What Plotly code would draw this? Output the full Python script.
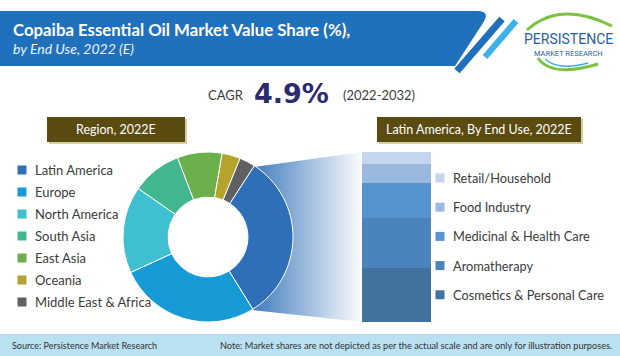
import plotly.graph_objects as go

W, H = 620, 356

# ---------------- data ----------------
title_text = "Copaiba Essential Oil Market Value Share (%),"
subtitle_text = "by End Use, 2022 (E)"
cagr_value = "4.9%"
cagr_period = "(2022-2032)"

regions = ["Latin America", "Europe", "North America", "South Asia",
           "East Asia", "Oceania", "Middle East & Africa"]
region_share = [32.0, 27.0, 16.5, 9.5, 8.5, 3.5, 3.0]
region_colors = ["#2e6fb7", "#179bd7", "#3ec0d0", "#42b68e",
                 "#6bb04b", "#b4a32c", "#5f6062"]

end_uses = ["Cosmetics & Personal Care", "Aromatherapy",
            "Medicinal & Health Care", "Food Industry", "Retail/Household"]
end_use_share = [32.0, 29.0, 20.5, 11.5, 7.0]
end_use_colors = ["#43729f", "#4b83bd", "#5694d1", "#9bb9df", "#c4d5ec"]

source_text = "Source: Persistence Market Research"
note_text = ("Note: Market shares are not depicted as per the actual scale "
             "and are only for illustration purposes.")

FONT = "Lato, 'Open Sans', sans-serif"
TXT = "#3b3b3b"


def fx(x):
    return x / W


def fy(y):
    return 1 - y / H


fig = go.Figure()

# ---- gradient connector (Latin America -> bar) ----
fig.add_trace(go.Scatter(
    x=[254, 362, 362, 252, 254], y=[167, 152, 322, 310, 167],
    xaxis="x", yaxis="y", mode="lines", line=dict(width=0),
    fill="toself",
    fillgradient=dict(type="horizontal",
                      colorscale=[[0, "rgba(46,111,183,0.9)"],
                                  [1, "rgba(46,111,183,0.0)"]],
                      start=254, stop=364),
    hoverinfo="skip", showlegend=False))

# ---- donut ----
fig.add_trace(go.Pie(
    labels=regions, values=region_share, sort=False,
    direction="clockwise", rotation=33, hole=0.47,
    marker=dict(colors=region_colors, line=dict(color="white", width=1)),
    textinfo="none", hoverinfo="label+percent", showlegend=False,
    domain=dict(x=[fx(123), fx(293)], y=[fy(322), fy(152)])))

# ---- stacked bar ----
for name, val, col in zip(end_uses, end_use_share, end_use_colors):
    fig.add_trace(go.Bar(
        x=[0], y=[val], name=name, width=1, xaxis="x2", yaxis="y2",
        marker=dict(color=col, line=dict(width=0)),
        showlegend=False, hoverinfo="name+y"))

# ---- legend markers ----
fig.add_trace(go.Scatter(
    x=[22] * len(regions), y=[170 + 22 * i for i in range(len(regions))],
    xaxis="x", yaxis="y", mode="markers",
    marker=dict(symbol="square", size=9, color=region_colors, line=dict(width=0)),
    hoverinfo="skip", showlegend=False))

rev_uses = end_uses[::-1]
rev_cols = end_use_colors[::-1]
fig.add_trace(go.Scatter(
    x=[440] * len(rev_uses), y=[178 + 29.2 * i for i in range(len(rev_uses))],
    xaxis="x", yaxis="y", mode="markers",
    marker=dict(symbol="square", size=9, color=rev_cols, line=dict(width=0)),
    hoverinfo="skip", showlegend=False))

annotations = []
for i, r in enumerate(regions):
    annotations.append(dict(x=33, y=170 + 22 * i, xref="x", yref="y", text=r,
                            showarrow=False, xanchor="left", yanchor="middle",
                            font=dict(family=FONT, size=13, color=TXT)))
for i, r in enumerate(rev_uses):
    annotations.append(dict(x=451, y=178 + 29.2 * i, xref="x", yref="y", text=r,
                            showarrow=False, xanchor="left", yanchor="middle",
                            font=dict(family=FONT, size=12.8, color=TXT)))

# header texts
annotations += [
    dict(x=11, y=29, xref="x", yref="y", text="<b>" + title_text + "</b>",
         showarrow=False, xanchor="left", yanchor="middle",
         font=dict(family=FONT, size=16.8, color="white")),
    dict(x=11, y=48, xref="x", yref="y", text="<i>" + subtitle_text + "</i>",
         showarrow=False, xanchor="left", yanchor="middle",
         font=dict(family=FONT, size=14, color="#eef3fa")),
    # logo text
    dict(x=568, y=39, xref="x", yref="y", text="PERSISTENCE",
         showarrow=False, xanchor="center", yanchor="middle",
         font=dict(family="'Liberation Sans Narrow', 'Roboto', sans-serif",
                   size=14, color="#1f5fa6")),
    dict(x=568, y=53, xref="x", yref="y", text="MARKET RESEARCH",
         showarrow=False, xanchor="center", yanchor="middle",
         font=dict(family="'Liberation Sans Narrow', 'Roboto', sans-serif",
                   size=7.5, color="#1f5fa6")),
    # CAGR
    dict(x=246, y=95, xref="x", yref="y", text="CAGR",
         showarrow=False, xanchor="right", yanchor="middle",
         font=dict(family=FONT, size=13, color=TXT)),
    dict(x=252, y=93, xref="x", yref="y", text="<b>" + cagr_value + "</b>",
         showarrow=False, xanchor="left", yanchor="middle",
         font=dict(family="'DejaVu Sans', sans-serif", size=27, color="#2b2a6f")),
    dict(x=341, y=95, xref="x", yref="y", text=cagr_period,
         showarrow=False, xanchor="left", yanchor="middle",
         font=dict(family=FONT, size=13, color=TXT)),
    # section boxes
    dict(x=116, y=129.5, xref="x", yref="y", text="Region, 2022E",
         showarrow=False, xanchor="center", yanchor="middle",
         font=dict(family=FONT, size=12.5, color="white")),
    dict(x=479, y=129.5, xref="x", yref="y", text="Latin America, By End Use, 2022E",
         showarrow=False, xanchor="center", yanchor="middle",
         font=dict(family=FONT, size=12.5, color="white")),
    # footer
    dict(x=10, y=345.5, xref="x", yref="y", text=source_text,
         showarrow=False, xanchor="left", yanchor="middle",
         font=dict(family=FONT, size=9, color="#333333")),
    dict(x=218, y=345.5, xref="x", yref="y", text=note_text,
         showarrow=False, xanchor="left", yanchor="middle",
         font=dict(family=FONT, size=9.2, color="#333333")),
]

shapes = [
    # header banner
    dict(type="path", xref="x", yref="y", layer="below",
         path="M0,11 L477,11 Q491,11 483,23 L455,66 L0,66 Z",
         fillcolor="#1f70bd", line=dict(width=0)),
    dict(type="path", xref="x", yref="y", layer="below",
         path="M499.3,16.7 L504.7,21.3 L459.7,73.3 L454.3,68.7 Z",
         fillcolor="#1f6fbc", line=dict(width=0)),
    dict(type="path", xref="x", yref="y", layer="below",
         path="M513.7,19 L518.3,23 L487.3,59 L482.7,55 Z",
         fillcolor="#3cb2e8", line=dict(width=0)),
    # logo swooshes
    dict(type="path", xref="x", yref="y", layer="below",
         path="M527,30 Q560,0 612,26", line=dict(color="#7cc142", width=3)),
    dict(type="path", xref="x", yref="y", layer="below",
         path="M538,58 Q552,78 598,64", line=dict(color="#7cc142", width=3)),
    dict(type="path", xref="x", yref="y", layer="below",
         path="M545,59 Q558,71 588,63", line=dict(color="#3aaee0", width=1.5)),
    # section boxes (shadow + box)
    dict(type="rect", xref="x", yref="y", layer="below",
         x0=49, x1=187, y0=119, y1=144, fillcolor="#d8cf9f", line=dict(width=0)),
    dict(type="rect", xref="x", yref="y", layer="below",
         x0=47, x1=185, y0=117, y1=142, fillcolor="#5a4b10", line=dict(width=0)),
    dict(type="rect", xref="x", yref="y", layer="below",
         x0=379, x1=583, y0=119, y1=144, fillcolor="#d8cf9f", line=dict(width=0)),
    dict(type="rect", xref="x", yref="y", layer="below",
         x0=377, x1=581, y0=117, y1=142, fillcolor="#5a4b10", line=dict(width=0)),
    # footer band
    dict(type="rect", xref="x", yref="y", layer="below",
         x0=0, x1=620, y0=334, y1=356, fillcolor="#b9e1f2", line=dict(width=0)),
]

fig.update_layout(
    width=W, height=H, margin=dict(l=0, r=0, t=0, b=0),
    paper_bgcolor="white", plot_bgcolor="rgba(0,0,0,0)",
    showlegend=False, barmode="stack", bargap=0,
    xaxis=dict(domain=[0, 1], range=[0, W], visible=False, fixedrange=True),
    yaxis=dict(domain=[0, 1], range=[H, 0], visible=False, fixedrange=True),
    xaxis2=dict(domain=[fx(362), fx(431)], range=[-0.5, 0.5], visible=False,
                fixedrange=True, anchor="y2"),
    yaxis2=dict(domain=[fy(322), fy(152)], range=[0, 100], visible=False,
                fixedrange=True, anchor="x2"),
    annotations=annotations, shapes=shapes,
)

fig.write_html("out.html", config={"displayModeBar": False},
               post_script="document.body.style.margin='0';document.body.style.overflow='hidden';")
